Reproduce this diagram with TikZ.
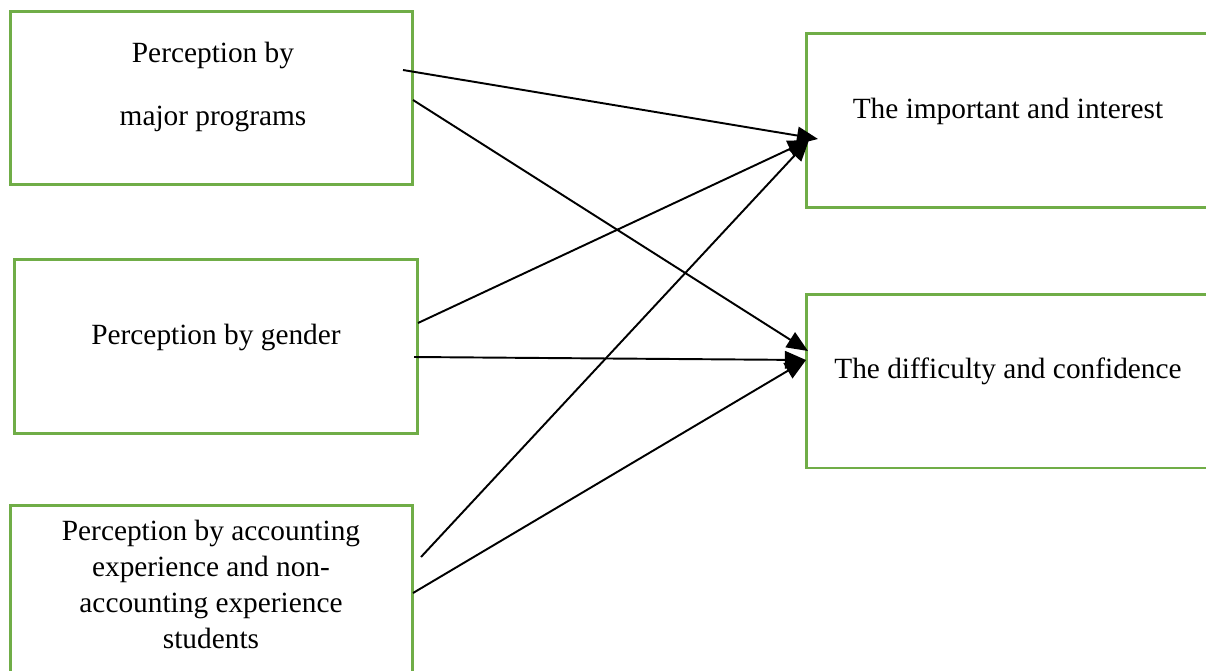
\documentclass[tikz,border=0pt]{standalone}
\usepackage{fontspec}
\setmainfont{Liberation Serif}
\usetikzlibrary{arrows.meta}
\definecolor{boxgreen}{RGB}{112,173,71}
\tikzset{
  box/.style={draw=boxgreen, line width=1.7pt, minimum width=8.06cm, minimum height=3.48cm, inner sep=0pt},
  txt/.style={align=center, font=\fontsize{16.7}{20.5}\selectfont, inner sep=0pt},
  conn/.style={line width=1.1pt, -{Triangle[length=12pt, width=10pt]}}
}
\begin{document}
\begin{tikzpicture}[x=0.02cm, y=-0.02cm]
            \clip (0,0) rectangle (1206,670);
            \fill[white] (0,0) rectangle (1206,670);

            \node(prog) at (211.5,98) [box] {};
            \node(gender) at (216,346.5) [box] {};
            \node(exper) at (211.5,592.5) [box] {};
            \node(important) at (1008,120.5) [box] {};
            \node(difficulty) at (1008,381) [box] {};

            \node(prog_txt) at (213,87) [txt] {Perception by\\[15pt] major programs};
            \node(gender_txt) at (216,337) [txt] {Perception by gender};
            \node(exper_txt) at (211,584) [txt] {Perception by accounting\\experience and non-\\accounting experience\\students};
            \node(important_txt) at (1008,111) [txt] {The important and interest};
            \node(difficulty_txt) at (1008,371) [txt] {The difficulty and confidence};

            \coordinate(prog_out1) at (403,70);
            \coordinate(prog_out2) at (413,100);
            \coordinate(gender_out1) at (418,323);
            \coordinate(gender_out2) at (414,357);
            \coordinate(exper_out1) at (421,557);
            \coordinate(exper_out2) at (413,593);
            \coordinate(important_in1) at (818,139);
            \coordinate(important_in2) at (809,140);
            \coordinate(difficulty_in1) at (808,351);
            \coordinate(difficulty_in2) at (806,360);

            \draw[conn] (prog_out1) -- (important_in1);
            \draw[conn] (prog_out2) -- (difficulty_in1);
            \draw[conn] (gender_out1) -- (important_in2);
            \draw[conn] (gender_out2) -- (difficulty_in2);
            \draw[conn] (exper_out1) -- (important_in2);
            \draw[conn] (exper_out2) -- (difficulty_in2);
        \end{tikzpicture}
\end{document}
